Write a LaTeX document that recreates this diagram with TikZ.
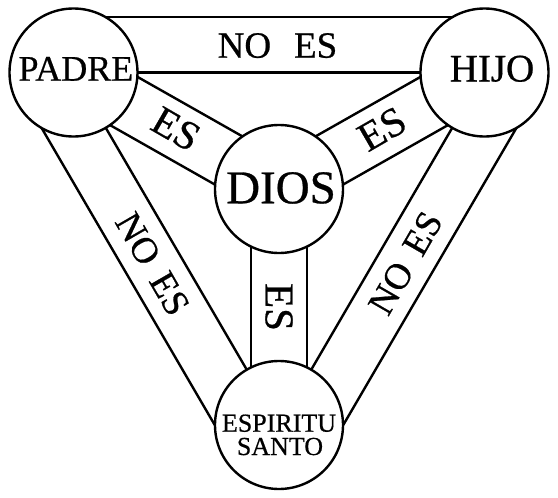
\documentclass[tikz,border=0pt]{standalone}
\usepackage{fontspec}
\setmainfont{Liberation Serif}[FakeBold=0.6]
\usetikzlibrary{calc,backgrounds}
\begin{document}
\begin{tikzpicture}[x=1pt,y=-1pt,
  ring/.style={circle,draw,line width=2.4pt,fill=white,minimum size=128pt,inner sep=0pt},
  band/.style={line width=2.4pt},
  word/.style={inner sep=0pt,anchor=base},
  lab/.style={inner sep=0pt,font=\fontsize{37}{37}\selectfont},
  labes/.style={inner sep=0pt,font=\fontsize{41}{41}\selectfont}]
\useasboundingbox (0,0) rectangle (558,498);
% circles
\node[ring] (P) at (73.5,72.5) {};
\node[ring] (H) at (484.5,72.5) {};
\node[ring] (D) at (279,189) {};
\node[ring] (S) at (279,425) {};
% bands
\begin{scope}[on background layer]
  % outer bands: inner edge through centres, outer edge offset outward
  \draw[band] (P.center) -- (H.center);
  \draw[band] ($(P.center)!55.5pt!90:(H.center)$) -- ($(H.center)!55.5pt!-90:(P.center)$);
  \draw[band] (P.center) -- (S.center);
  \draw[band] ($(P.center)!55.5pt!-90:(S.center)$) -- ($(S.center)!55.5pt!90:(P.center)$);
  \draw[band] (H.center) -- (S.center);
  \draw[band] ($(H.center)!55.5pt!90:(S.center)$) -- ($(S.center)!55.5pt!-90:(H.center)$);
  % inner bands: centred on the line of centres
  \draw[band] ($(P.center)!27.75pt!90:(D.center)$) -- ($(D.center)!27.75pt!-90:(P.center)$);
  \draw[band] ($(P.center)!27.75pt!-90:(D.center)$) -- ($(D.center)!27.75pt!90:(P.center)$);
  \draw[band] ($(H.center)!27.75pt!90:(D.center)$) -- ($(D.center)!27.75pt!-90:(H.center)$);
  \draw[band] ($(H.center)!27.75pt!-90:(D.center)$) -- ($(D.center)!27.75pt!90:(H.center)$);
  \draw[band] ($(D.center)!27.75pt!90:(S.center)$) -- ($(S.center)!27.75pt!-90:(D.center)$);
  \draw[band] ($(D.center)!27.75pt!-90:(S.center)$) -- ($(S.center)!27.75pt!90:(D.center)$);
\end{scope}
% circle texts
\node[word,font=\fontsize{36}{36}\selectfont] (tP) at (75.9,80.7) {PADRE};
\node[word,font=\fontsize{39}{39}\selectfont] (tH) at (492,81.5) {HIJO};
\node[word,font=\fontsize{47}{47}\selectfont] (tD) at (281,203.3) {DIOS};
\node[word,font=\fontsize{26}{26}\selectfont] (tS1) at (279,431.7) {ESPIRITU};
\node[word,font=\fontsize{26}{26}\selectfont] (tS2) at (280,455) {SANTO};
% band labels
\node[lab] (l1) at (277.5,45.6) {NO\hspace{0.62em}ES};
\node[lab,rotate=-60] (l2) at (152.5,264) {NO\hspace{0.4em}ES};
\node[lab,rotate=60] (l3) at (405.5,263) {NO\hspace{0.4em}ES};
\node[labes,rotate=-30] (l4) at (176,129) {ES};
\node[labes,rotate=30] (l5) at (382,129) {ES};
\node[labes,rotate=-90] (l6) at (279,307) {ES};
\end{tikzpicture}
\end{document}
